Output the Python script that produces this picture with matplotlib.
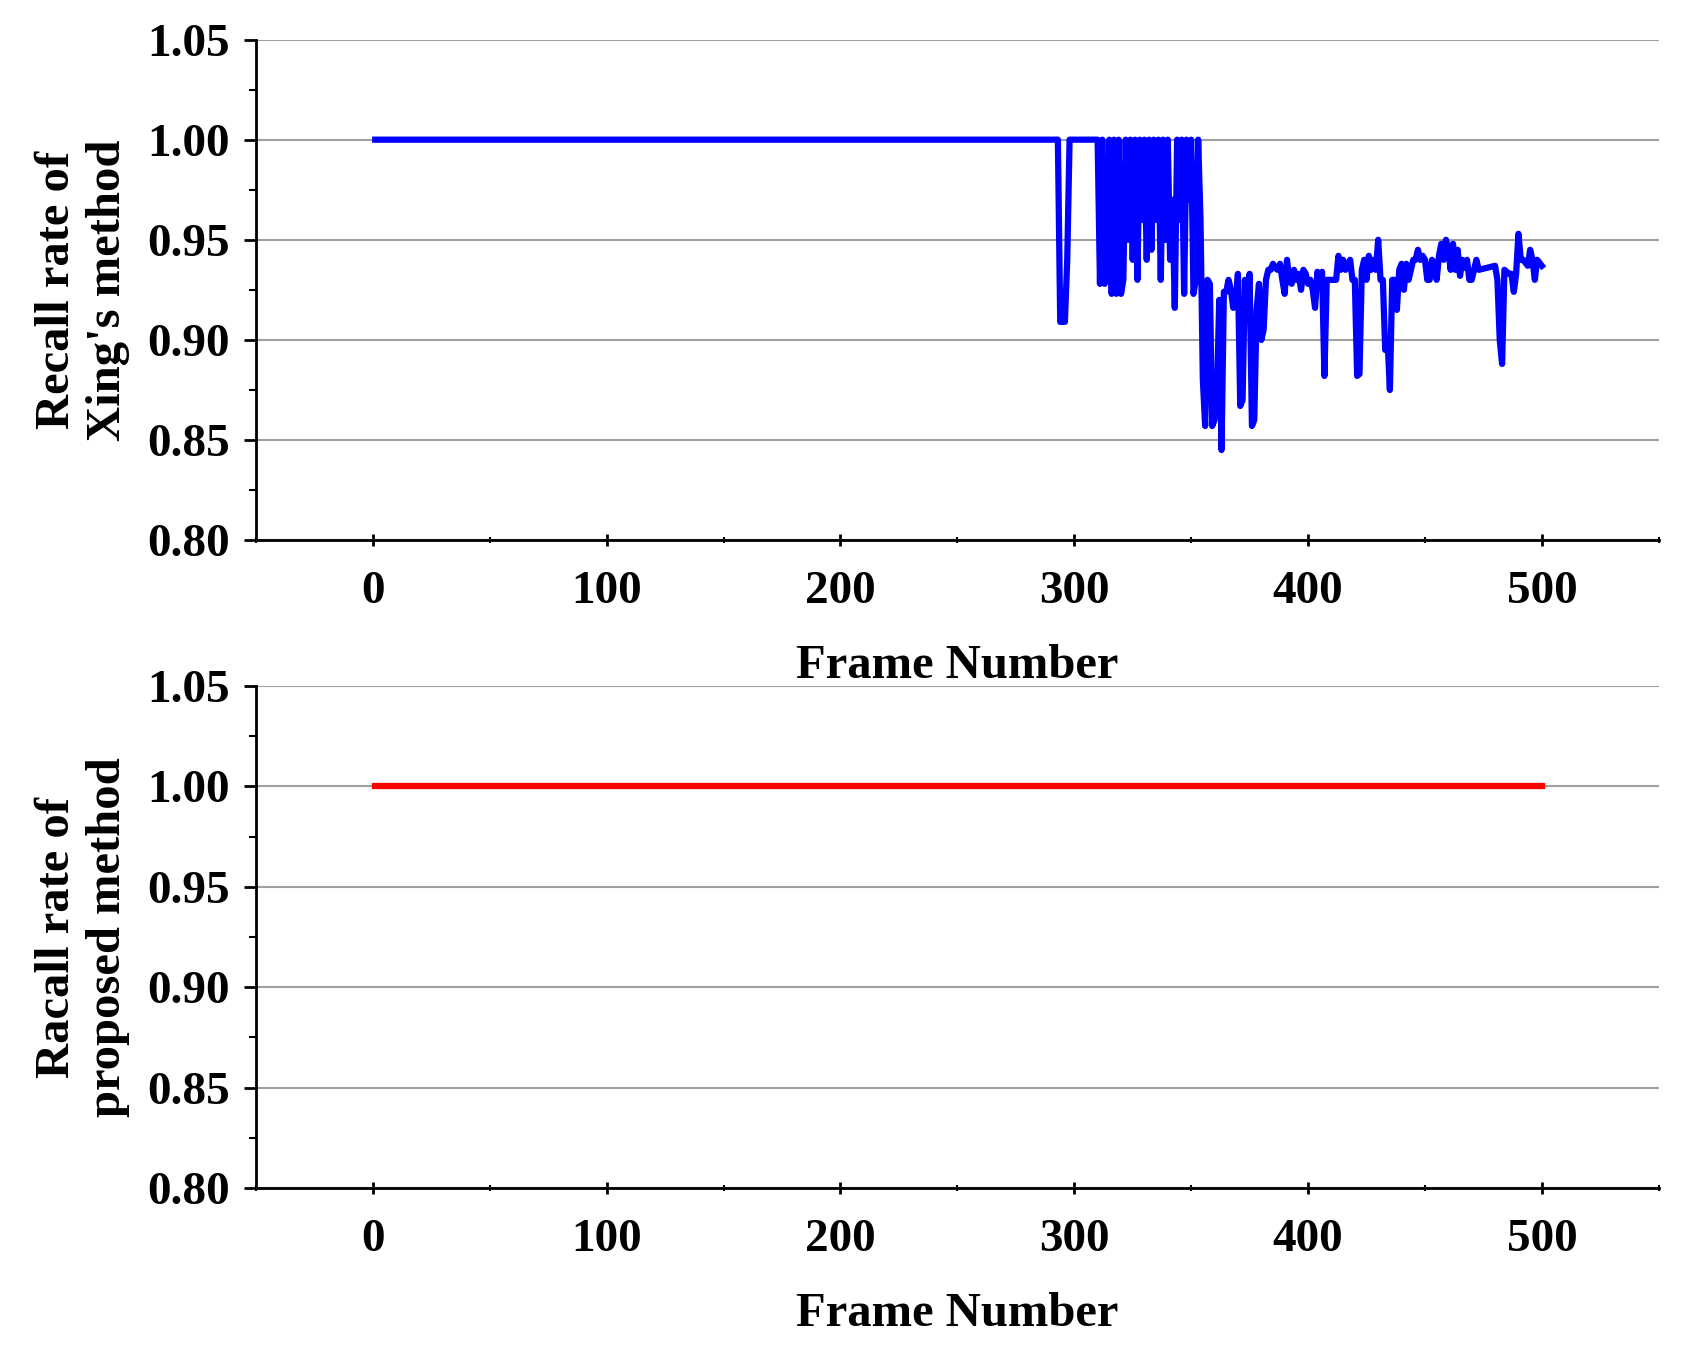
import matplotlib
matplotlib.use("Agg")
import matplotlib.pyplot as plt
from matplotlib.ticker import MultipleLocator

plt.rcParams['font.family'] = ['Liberation Serif', 'DejaVu Serif']
plt.rcParams['font.weight'] = 'bold'

# Xing's method: (frame, recall)
xing_pts = [
    (1, 1.0), (293, 1.0), (294, 0.909), (296, 0.909), (297, 0.94), (298, 1.0), (310, 1.0),
    (311, 0.928), (312, 1.0), (313, 0.928), (314, 0.94), (315, 1.0), (316, 0.923), (317, 1.0),
    (318, 0.923), (319, 1.0), (320, 0.923), (321, 0.93), (322, 1.0), (323, 0.95), (324, 1.0),
    (325, 0.94), (326, 1.0), (327, 0.93), (328, 1.0), (329, 0.96), (330, 1.0), (331, 0.94),
    (332, 1.0), (333, 0.945), (334, 1.0), (335, 0.96), (336, 1.0), (337, 0.93), (338, 1.0),
    (339, 0.95), (340, 1.0), (341, 0.94), (342, 0.97), (343, 0.916), (344, 1.0), (345, 0.96),
    (346, 1.0), (347, 0.923), (348, 1.0), (349, 0.97), (350, 1.0), (351, 0.923), (352, 0.93),
    (353, 1.0), (354, 0.96), (355, 0.88), (356, 0.857), (357, 0.93), (358, 0.928), (359, 0.857),
    (360, 0.86), (361, 0.87), (362, 0.92), (363, 0.845), (364, 0.924), (365, 0.924), (366, 0.93),
    (367, 0.925), (368, 0.916), (369, 0.918), (370, 0.933), (371, 0.867), (372, 0.87), (373, 0.93),
    (374, 0.915), (375, 0.933), (376, 0.857), (377, 0.86), (378, 0.915), (379, 0.928), (380, 0.90),
    (381, 0.905), (382, 0.93), (383, 0.935), (384, 0.935), (385, 0.938), (386, 0.936), (387, 0.935),
    (388, 0.938), (389, 0.93), (390, 0.923), (391, 0.94), (392, 0.93), (393, 0.928), (394, 0.935),
    (395, 0.93), (396, 0.933), (397, 0.925), (398, 0.935), (399, 0.933), (400, 0.928), (401, 0.93),
    (402, 0.925), (403, 0.916), (404, 0.934), (405, 0.93), (406, 0.934), (407, 0.882), (408, 0.93),
    (410, 0.93), (412, 0.93), (413, 0.942), (414, 0.935), (415, 0.94), (416, 0.935), (418, 0.94),
    (419, 0.93), (420, 0.93), (421, 0.882), (422, 0.883), (423, 0.935), (424, 0.94), (425, 0.93),
    (426, 0.942), (427, 0.935), (428, 0.94), (429, 0.935), (430, 0.95), (431, 0.93), (432, 0.93),
    (433, 0.895), (434, 0.9), (435, 0.875), (436, 0.93), (437, 0.93), (438, 0.915), (439, 0.935),
    (440, 0.938), (441, 0.925), (442, 0.938), (443, 0.93), (444, 0.935), (445, 0.94), (446, 0.94),
    (447, 0.945), (448, 0.94), (449, 0.942), (450, 0.94), (451, 0.93), (452, 0.93), (453, 0.94),
    (454, 0.938), (455, 0.93), (456, 0.942), (457, 0.948), (458, 0.94), (459, 0.95), (460, 0.945),
    (461, 0.935), (462, 0.948), (463, 0.935), (464, 0.945), (465, 0.932), (466, 0.94), (467, 0.936),
    (468, 0.94), (469, 0.93), (470, 0.93), (471, 0.935), (472, 0.94), (473, 0.935), (480, 0.937),
    (481, 0.93), (482, 0.9), (483, 0.888), (484, 0.935), (486, 0.933), (487, 0.933), (488, 0.924),
    (489, 0.933), (490, 0.953), (491, 0.94), (492, 0.94), (494, 0.937), (495, 0.945), (496, 0.94),
    (497, 0.93), (498, 0.94), (500, 0.937),
]
xing_frames = [p[0] for p in xing_pts]
xing_recall = [p[1] for p in xing_pts]

proposed_frames = [1, 500]
proposed_recall = [1.0, 1.0]

y_ticks = [0.80, 0.85, 0.90, 0.95, 1.00, 1.05]
x_ticks = [0, 100, 200, 300, 400, 500]

fig = plt.figure(figsize=(16.84, 13.64), dpi=100)
ax1 = fig.add_axes([0.152, 0.604, 0.833, 0.367])
ax2 = fig.add_axes([0.152, 0.129, 0.833, 0.368])

panels = [
    (ax1, xing_frames, xing_recall, '#0000ff', "Recall rate of\nXing's method"),
    (ax2, proposed_frames, proposed_recall, '#ff0000', "Racall rate of\nproposed method"),
]
for ax, xs, ys, color, ylabel in panels:
    ax.plot(xs, ys, color=color, lw=4.5, zorder=3)
    ax.set_xlim(-50, 550)
    ax.set_ylim(0.80, 1.05)
    ax.set_xticks(x_ticks)
    ax.set_yticks(y_ticks)
    ax.set_yticklabels([f"{v:.2f}" for v in y_ticks])
    ax.xaxis.set_minor_locator(MultipleLocator(50))
    ax.yaxis.set_minor_locator(MultipleLocator(0.025))
    ax.grid(axis='y', color='#a0a0a0', lw=1.5, zorder=1)
    for s in ['top', 'right']:
        ax.spines[s].set_visible(False)
    for s in ['left', 'bottom']:
        ax.spines[s].set_linewidth(2)
    ax.tick_params(which='major', length=9, width=2, labelsize=34, pad=10)
    ax.tick_params(which='minor', length=5, width=1.5)
    ax.tick_params(axis='x', which='both', direction='inout', pad=18)
    ax.set_xlabel('Frame Number', fontsize=35, fontweight='bold', labelpad=22)
    ax.set_ylabel(ylabel, fontsize=35, fontweight='bold', labelpad=12)

fig.savefig('out.png', dpi=100)
